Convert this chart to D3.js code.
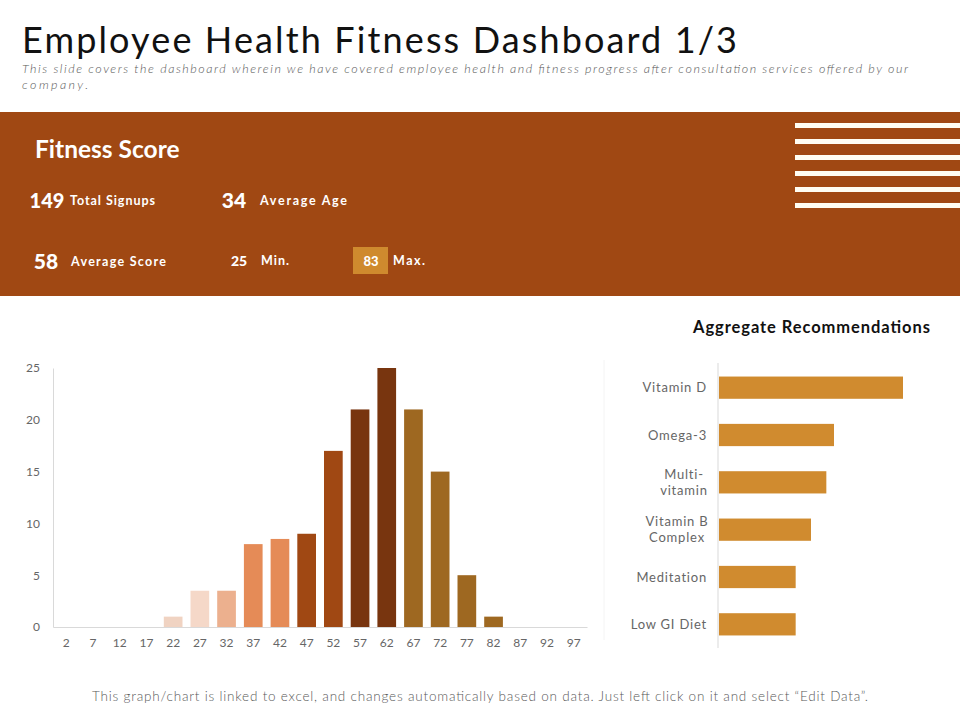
<!DOCTYPE html>
<html>
<head>
<meta charset="utf-8">
<script src="https://cdn.jsdelivr.net/npm/d3@7"></script>
<style>
  html, body { margin: 0; padding: 0; background: #fff; }
  text { font-family: Lato, "Open Sans", sans-serif; }
</style>
</head>
<body>
<div id="chart"></div>
<script>
// histogram data
const scoreBins = ["2","7","12","17","22","27","32","37","42","47","52","57","62","67","72","77","82","87","92","97"];
const scoreCounts = [0,0,0,0,1,3.5,3.5,8,8.5,9,17,21,25,21,15,5,1,0,0,0];
const scoreColors = ["#f0d3c2","#f0d3c2","#f0d3c2","#f0d3c2","#f0d3c2","#f5d8c8","#ecb08e","#e58b57","#e58b57","#a04813","#a04813","#78350f","#78350f","#9e6821","#9e6821","#9e6821","#9e6821","#9e6821","#9e6821","#9e6821"];
const scoreTicks = [0,5,10,15,20,25];

// recommendations data
const recNames = [["Vitamin D"],["Omega-3"],["Multi-","vitamin"],["Vitamin B","Complex"],["Meditation"],["Low GI Diet"]];
const recValues = [24,15,14,12,10,10];

// header numbers
const statValues = ["149","34","58","25","83"];
const statLabels = ["Total Signups","Average Age","Average Score","Min.","Max."];

const brown = "#a04813";
const svg = d3.select("#chart").append("svg").attr("width", 960).attr("height", 720).style("display", "block");

// title block
svg.append("text").attr("x", 22).attr("y", 53).attr("font-size", 36).attr("fill", "#111")
  .attr("textLength", 715).attr("lengthAdjust", "spacing")
  .text("Employee Health Fitness Dashboard 1/3");
svg.append("text").attr("x", 22).attr("y", 73).attr("font-size", 12.5).attr("font-style", "italic").attr("font-weight", 300).attr("fill", "#595959")
  .attr("textLength", 886).attr("lengthAdjust", "spacing")
  .text("This slide covers the dashboard wherein we have covered employee health and fitness progress after consultation services offered by our");
svg.append("text").attr("x", 22).attr("y", 89).attr("font-size", 12.5).attr("font-style", "italic").attr("font-weight", 300).attr("fill", "#595959")
  .attr("textLength", 66).attr("lengthAdjust", "spacing")
  .text("company.");

// brown band
svg.append("rect").attr("x", 0).attr("y", 112).attr("width", 960).attr("height", 184).attr("fill", brown);
svg.selectAll(".stripe").data(d3.range(6)).enter().append("rect")
  .attr("class", "stripe")
  .attr("x", 795).attr("y", d => 123 + d * 16).attr("width", 165).attr("height", 5)
  .attr("fill", "#fffdf3");

svg.append("text").attr("x", 35).attr("y", 158).attr("font-size", 24.5).attr("font-weight", 700).attr("fill", "#fff")
  .text("Fitness Score");

svg.append("rect").attr("x", 353).attr("y", 247).attr("width", 35).attr("height", 27).attr("fill", "#cf8a2e");

const statNumX = [47, 234, 46, 239, 371];
const statNumY = [208, 208, 269, 266, 266];
const statNumSize = [20, 21, 21, 14, 13];
const statLabelX = [70, 260, 71, 261, 393];
const statLabelY = [205, 205, 266, 265, 265];
const statLabelW = [85, 87, 95, 28, 32];

svg.selectAll(".statNum").data(statValues).enter().append("text")
  .attr("class", "statNum")
  .attr("x", (d, i) => statNumX[i]).attr("y", (d, i) => statNumY[i])
  .attr("font-size", (d, i) => statNumSize[i])
  .attr("font-weight", 900).attr("text-anchor", "middle").attr("fill", "#fff")
  .text(d => d);
svg.selectAll(".statLabel").data(statLabels).enter().append("text")
  .attr("class", "statLabel")
  .attr("x", (d, i) => statLabelX[i]).attr("y", (d, i) => statLabelY[i])
  .attr("font-size", 12.5).attr("font-weight", 700).attr("fill", "#fff")
  .attr("textLength", (d, i) => statLabelW[i]).attr("lengthAdjust", "spacing")
  .text(d => d);

// histogram
const x = d3.scaleBand().domain(scoreBins).range([53, 587]).paddingInner(0.3).paddingOuter(0.15);
const y = d3.scaleLinear().domain([0, 25]).range([627, 368]);

const xAxis = svg.append("g").attr("transform", "translate(0,627)")
  .call(d3.axisBottom(x).tickSize(0).tickPadding(11));
const yAxis = svg.append("g").attr("transform", "translate(53,0)")
  .call(d3.axisLeft(y).tickValues(scoreTicks).tickSize(0).tickPadding(13));
[xAxis, yAxis].forEach(a => {
  a.select(".domain").attr("stroke", "#d9d9d9");
  a.selectAll("text").attr("font-size", 12).attr("fill", "#666").style("font-family", "Lato, sans-serif");
});

svg.selectAll(".scoreBar").data(scoreCounts).enter().append("rect")
  .attr("class", "scoreBar")
  .attr("x", (d, i) => x(scoreBins[i]))
  .attr("y", d => y(d))
  .attr("width", x.bandwidth())
  .attr("height", d => y(0) - y(d))
  .attr("fill", (d, i) => scoreColors[i]);

// faint divider between the charts
svg.append("line").attr("x1", 604).attr("x2", 604).attr("y1", 360).attr("y2", 640).attr("stroke", "#f4f4f4");

// recommendations
svg.append("text").attr("x", 930).attr("y", 333).attr("font-size", 16.5).attr("font-weight", 700)
  .attr("text-anchor", "end").attr("fill", "#111")
  .attr("textLength", 237).attr("lengthAdjust", "spacing")
  .text("Aggregate Recommendations");

const recKeys = recNames.map(d => d.join(" "));
const ry = d3.scaleBand().domain(recKeys).range([364, 648]).paddingInner(0.53).paddingOuter(0.265);
const rx = d3.scaleLinear().domain([0, 24]).range([719, 903]);

svg.selectAll(".recBar").data(recValues).enter().append("rect")
  .attr("class", "recBar")
  .attr("x", rx(0))
  .attr("y", (d, i) => ry(recKeys[i]))
  .attr("width", d => rx(d) - rx(0))
  .attr("height", ry.bandwidth())
  .attr("fill", "#d08b2f");

svg.append("line").attr("x1", 718).attr("x2", 718).attr("y1", 363).attr("y2", 648).attr("stroke", "#d9d9d9");

// wrapped labels are centred on their own line, single ones end at the axis gap
const recLabelX = [707, 707, 684, 677, 707, 707];
const recLabels = svg.selectAll(".recLabel").data(recNames).enter().append("text")
  .attr("class", "recLabel")
  .attr("font-size", 13).attr("letter-spacing", 0.8).attr("fill", "#666")
  .attr("text-anchor", d => d.length > 1 ? "middle" : "end")
  .attr("y", (d, i) => ry(recKeys[i]) + ry.bandwidth() / 2 + 4.5 - (d.length - 1) * 8);
recLabels.each(function (d, i) {
  d3.select(this).selectAll("tspan").data(d).enter().append("tspan")
    .attr("x", recLabelX[i])
    .attr("dy", (t, j) => j ? 16 : 0)
    .text(t => t);
});

// footer
svg.append("text").attr("x", 480).attr("y", 701).attr("font-size", 13.5).attr("font-weight", 300).attr("text-anchor", "middle").attr("fill", "#595959")
  .attr("textLength", 776).attr("lengthAdjust", "spacing")
  .text("This graph/chart is linked to excel, and changes automatically based on data. Just left click on it and select “Edit Data”.");
</script>
</body>
</html>
